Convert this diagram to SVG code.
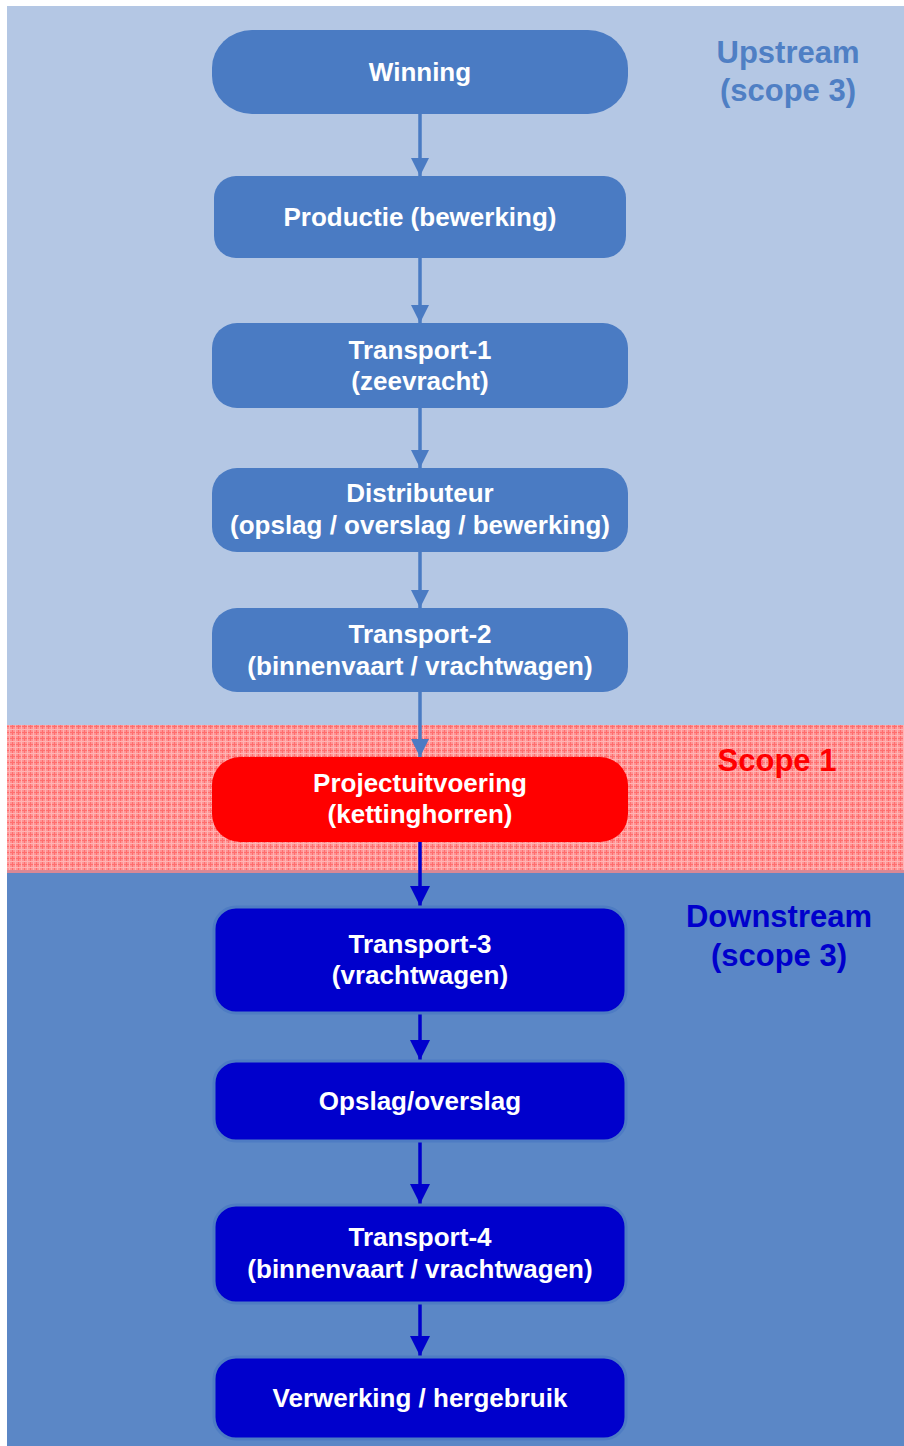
<svg xmlns="http://www.w3.org/2000/svg" width="904" height="1446" viewBox="0 0 904 1446">
  <style>
    .t { font-family: "Liberation Sans", Arial, sans-serif; font-weight: bold; font-size: 26px; fill: #FFFFFF; text-anchor: middle; }
    .lbl { font-family: "Liberation Sans", Arial, sans-serif; font-weight: bold; font-size: 31px; text-anchor: middle; }
    .up { fill: #4A7BC3; }
    .sc1 { fill: #FF0000; }
    .dn { fill: #0000CC; stroke: #4E7CC3; stroke-width: 3; }
    .cu { stroke: #4A7BC3; stroke-width: 3.5; fill: none; }
    .cd { stroke: #0000CC; stroke-width: 3.5; fill: none; }
  </style>
  <defs>
    <pattern id="hatch" width="6" height="6" patternUnits="userSpaceOnUse">
      <rect width="6" height="6" fill="#FF9494"/>
      <rect x="0" y="0" width="1" height="6" fill="#FF6E6E"/>
      <rect x="0" y="0" width="6" height="1" fill="#FF6E6E"/>
      <rect x="3" y="0" width="1" height="6" fill="#FFB4B4"/>
      <rect x="0" y="3" width="6" height="1" fill="#FFB4B4"/>
    </pattern>
    <marker id="au" viewBox="0 0 10 10" refX="10" refY="5" markerUnits="userSpaceOnUse" markerWidth="18" markerHeight="21" orient="auto">
      <path d="M0,0 L10,5 L0,10 Z" fill="#4A7BC3"/>
    </marker>
    <marker id="ad" viewBox="0 0 10 10" refX="10" refY="5" markerUnits="userSpaceOnUse" markerWidth="20" markerHeight="22" orient="auto">
      <path d="M0,0 L10,5 L0,10 Z" fill="#0000CC"/>
    </marker>
  </defs>

  <g id="background">
    <rect x="0" y="0" width="904" height="1446" fill="#FFFFFF"/>
    <rect x="7" y="6" width="897" height="719" fill="#B4C7E4"/>
    <rect x="7" y="725" width="897" height="145" fill="url(#hatch)"/>
    <rect x="7" y="870" width="897" height="3" fill="#D98895"/>
    <rect x="7" y="873" width="897" height="573" fill="#5B87C6"/>
  </g>

  <g id="labels">
    <text class="lbl" x="788" y="63" fill="#4F7FC4">Upstream</text>
    <text class="lbl" x="788" y="101" fill="#4F7FC4">(scope 3)</text>
    <text class="lbl" x="777" y="771" fill="#FF0000">Scope 1</text>
    <text class="lbl" x="779" y="927" fill="#0000CC">Downstream</text>
    <text class="lbl" x="779" y="966" fill="#0000CC">(scope 3)</text>
  </g>

  <g id="connectors">
    <line class="cu" x1="420" y1="114" x2="420" y2="176" marker-end="url(#au)"/>
    <line class="cu" x1="420" y1="258" x2="420" y2="323" marker-end="url(#au)"/>
    <line class="cu" x1="420" y1="408" x2="420" y2="468" marker-end="url(#au)"/>
    <line class="cu" x1="420" y1="552" x2="420" y2="608" marker-end="url(#au)"/>
    <line class="cu" x1="420" y1="692" x2="420" y2="757" marker-end="url(#au)"/>
    <line class="cd" x1="420" y1="842" x2="420" y2="906" marker-end="url(#ad)"/>
    <line class="cd" x1="420" y1="1013" x2="420" y2="1060" marker-end="url(#ad)"/>
    <line class="cd" x1="420" y1="1141" x2="420" y2="1204" marker-end="url(#ad)"/>
    <line class="cd" x1="420" y1="1303" x2="420" y2="1356" marker-end="url(#ad)"/>
  </g>

  <g id="winning">
    <rect class="up" x="212" y="30" width="416" height="84" rx="40" ry="38"/>
    <text class="t" x="420" y="81">Winning</text>
  </g>
  <g id="productie">
    <rect class="up" x="214" y="176" width="412" height="82" rx="22"/>
    <text class="t" x="420" y="226">Productie (bewerking)</text>
  </g>
  <g id="transport1">
    <rect class="up" x="212" y="323" width="416" height="85" rx="25"/>
    <text class="t" x="420" y="359">Transport-1</text>
    <text class="t" x="420" y="390">(zeevracht)</text>
  </g>
  <g id="distributeur">
    <rect class="up" x="212" y="468" width="416" height="84" rx="25"/>
    <text class="t" x="420" y="502">Distributeur</text>
    <text class="t" x="420" y="534">(opslag / overslag / bewerking)</text>
  </g>
  <g id="transport2">
    <rect class="up" x="212" y="608" width="416" height="84" rx="25"/>
    <text class="t" x="420" y="643">Transport-2</text>
    <text class="t" x="420" y="675">(binnenvaart / vrachtwagen)</text>
  </g>
  <g id="projectuitvoering">
    <rect class="sc1" x="212" y="757" width="416" height="85" rx="28"/>
    <text class="t" x="420" y="792">Projectuitvoering</text>
    <text class="t" x="420" y="823">(kettinghorren)</text>
  </g>
  <g id="transport3">
    <rect class="dn" x="214" y="907" width="412" height="106" rx="22"/>
    <text class="t" x="420" y="953">Transport-3</text>
    <text class="t" x="420" y="984">(vrachtwagen)</text>
  </g>
  <g id="opslag">
    <rect class="dn" x="214" y="1061" width="412" height="80" rx="22"/>
    <text class="t" x="420" y="1110">Opslag/overslag</text>
  </g>
  <g id="transport4">
    <rect class="dn" x="214" y="1205" width="412" height="98" rx="22"/>
    <text class="t" x="420" y="1246">Transport-4</text>
    <text class="t" x="420" y="1278">(binnenvaart / vrachtwagen)</text>
  </g>
  <g id="verwerking">
    <rect class="dn" x="214" y="1357" width="412" height="82" rx="22"/>
    <text class="t" x="420" y="1407">Verwerking / hergebruik</text>
  </g>
</svg>
